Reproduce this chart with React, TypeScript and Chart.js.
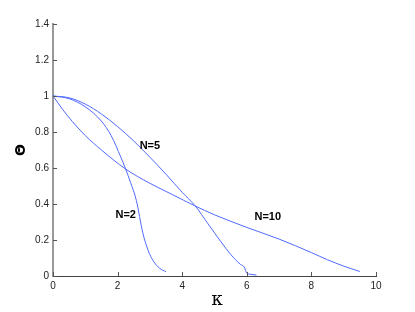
import React, { useEffect, useRef } from "react";
import { Chart, registerables } from "chart.js";

Chart.register(...registerables);

const xTicks = [0, 2, 4, 6, 8, 10];
const yTicks = [0, 0.2, 0.4, 0.6, 0.8, 1, 1.2, 1.4];

const n2X = [0, 0.5, 1, 1.5, 1.8, 2.1, 2.25, 2.4, 2.58, 2.78, 2.95, 3.1, 3.3, 3.5];
const n2Y = [1, 0.985, 0.94, 0.86, 0.78, 0.66, 0.594, 0.52, 0.42, 0.24, 0.14, 0.085, 0.043, 0.024];

const n5X = [0, 0.5, 1, 1.5, 2, 2.5, 3, 3.5, 4, 4.4, 4.8, 5.2, 5.5, 5.8, 5.92, 6.0, 6.1, 6.3];
const n5Y = [1, 0.99, 0.955, 0.9, 0.83, 0.75, 0.66, 0.565, 0.465, 0.39, 0.29, 0.19, 0.12, 0.065, 0.05, 0.015, 0.01, 0.005];

const n10X = [0, 0.3, 0.6, 1.0, 1.5, 2.25, 3, 3.7, 4.39, 5, 6, 7, 8, 8.5, 9, 9.5];
const n10Y = [1, 0.925, 0.858, 0.78, 0.7, 0.594, 0.515, 0.452, 0.39, 0.34, 0.27, 0.205, 0.13, 0.09, 0.055, 0.025];

const labelTexts = ["N=2", "N=5", "N=10"];
const labelX = [2.25, 3.0, 6.65];
const labelY = [0.34, 0.72, 0.33];

const xTitle = "κ";
const yTitle = "Θ";

const LINE = "rgb(80,105,255)";
const FONT = "'Liberation Sans', Arial, sans-serif";

const pts = (xs: number[], ys: number[]) => xs.map((x, i) => ({ x, y: ys[i] }));

export default function App() {
  const ref = useRef<HTMLCanvasElement | null>(null);
  useEffect(() => {
    document.body.style.margin = "0";
    const canvas = ref.current!;
    const extras = {
      id: "extras",
      afterDraw(chart: any) {
        const ctx = chart.ctx;
        const xs = chart.scales.x;
        const ys = chart.scales.y;
        const area = chart.chartArea;
        ctx.save();
        ctx.strokeStyle = "#555";
        ctx.lineWidth = 1;
        xTicks.forEach((t) => {
          const px = Math.round(xs.getPixelForValue(t)) + 0.5;
          ctx.beginPath();
          ctx.moveTo(px, area.bottom);
          ctx.lineTo(px, area.bottom - 4);
          ctx.stroke();
        });
        yTicks.forEach((t) => {
          const py = Math.round(ys.getPixelForValue(t)) + 0.5;
          ctx.beginPath();
          ctx.moveTo(area.left, py);
          ctx.lineTo(area.left + 4, py);
          ctx.stroke();
        });
        ctx.fillStyle = "#000";
        ctx.font = `bold 11px ${FONT}`;
        ctx.textAlign = "center";
        ctx.textBaseline = "middle";
        labelTexts.forEach((s, i) => {
          ctx.fillText(s, xs.getPixelForValue(labelX[i]), ys.getPixelForValue(labelY[i]));
        });
        ctx.font = `18px 'DejaVu Serif', serif`;
        ctx.fillText(xTitle, 217, 300);
        ctx.translate(21, 150);
        ctx.rotate(-Math.PI / 2);
        ctx.font = `bold 14px 'DejaVu Sans', sans-serif`;
        ctx.fillText(yTitle, 0, 0);
        ctx.restore();
      },
    };
    const chart = new Chart(canvas, {
      type: "scatter",
      data: {
        datasets: [
          { data: pts(n2X, n2Y), showLine: true, borderColor: LINE, borderWidth: 1, pointRadius: 0, cubicInterpolationMode: "monotone" },
          { data: pts(n5X, n5Y), showLine: true, borderColor: LINE, borderWidth: 1, pointRadius: 0, cubicInterpolationMode: "monotone" },
          { data: pts(n10X, n10Y), showLine: true, borderColor: LINE, borderWidth: 1, pointRadius: 0, cubicInterpolationMode: "monotone" },
        ] as any,
      },
      options: {
        animation: false,
        responsive: false,
        events: [],
        layout: { padding: { top: 24, right: 39, left: 0, bottom: 0 } },
        plugins: { legend: { display: false }, tooltip: { enabled: false } },
        scales: {
          x: {
            type: "linear",
            min: 0,
            max: 10,
            afterFit: (s: any) => { s.height = 36; },
            afterBuildTicks: (s: any) => { s.ticks = xTicks.map((v) => ({ value: v })); },
            grid: { display: false, drawTicks: false },
            border: { display: true, color: "#444", width: 1 },
            ticks: { color: "#222", font: { family: FONT, size: 10 }, padding: 4 },
          },
          y: {
            type: "linear",
            min: 0,
            max: 1.4,
            afterFit: (s: any) => { s.width = 53; },
            afterBuildTicks: (s: any) => { s.ticks = yTicks.map((v) => ({ value: v })); },
            grid: { display: false, drawTicks: false },
            border: { display: true, color: "#999", width: 2 },
            ticks: { color: "#222", font: { family: FONT, size: 10 }, padding: 4, callback: (v: any) => String(Math.round(v * 10) / 10) },
          },
        },
      },
      plugins: [extras],
    });
    return () => chart.destroy();
  }, []);
  return <canvas ref={ref} width={415} height={312} style={{ display: "block" }} />;
}
